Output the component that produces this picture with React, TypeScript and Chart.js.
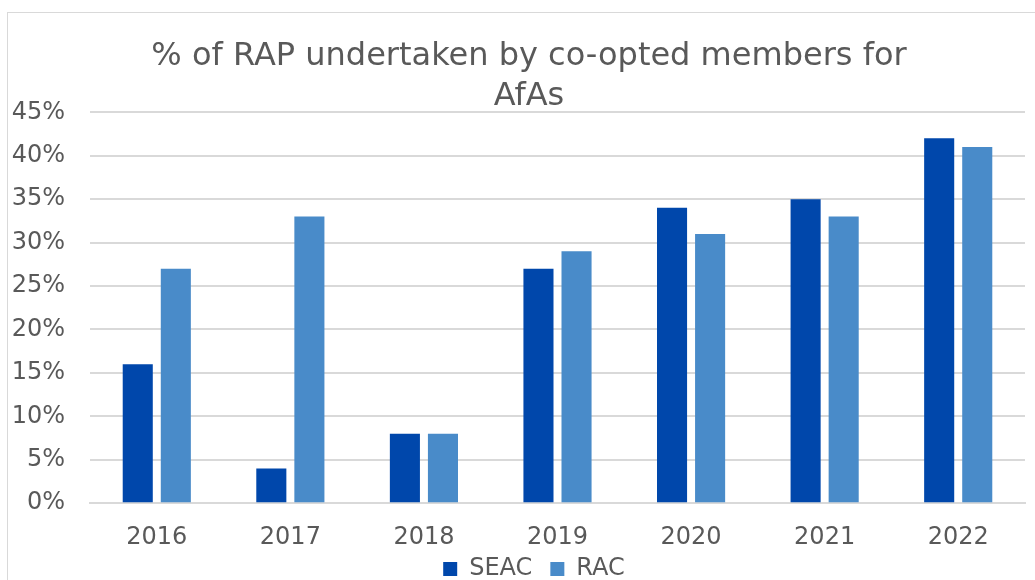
import React, { useEffect, useRef } from "react";
import { Chart, registerables } from "chart.js";

Chart.register(...registerables);

const categories = ["2016", "2017", "2018", "2019", "2020", "2021", "2022"];
const seacValues = [16, 4, 8, 27, 34, 35, 42];
const racValues = [27, 33, 8, 29, 31, 33, 41];
const titleLines = ["% of RAP undertaken by co-opted members for", "AfAs"];

const centerShift = {
  id: "centerShift",
  afterLayout(chart: any) {
    if (chart.titleBlock) chart.titleBlock.left += 21;
    if (chart.legend) {
      chart.legend.left += 31;
      chart.legend.top -= 12;
      chart.legend.bottom -= 12;
    }
  },
};

export default function App() {
  const ref = useRef<HTMLCanvasElement | null>(null);

  useEffect(() => {
    document.body.style.margin = "0";
    const font = "'DejaVu Sans', Verdana, sans-serif";
    const chart = new Chart(ref.current!, {
      type: "bar",
      data: {
        labels: categories,
        datasets: [
          { label: "SEAC", data: seacValues, backgroundColor: "#0047AB", barPercentage: 0.79, categoryPercentage: 0.57 },
          { label: "RAC", data: racValues, backgroundColor: "#498BC9", barPercentage: 0.79, categoryPercentage: 0.57 },
        ],
      },
      plugins: [centerShift],
      options: {
        animation: false,
        responsive: false,
        maintainAspectRatio: false,
        layout: { padding: { top: 24, right: 10, left: 12, bottom: 0 } },
        plugins: {
          title: {
            display: true,
            text: titleLines,
            color: "#595959",
            font: { family: font, size: 32, weight: "normal", lineHeight: 1.27 },
            padding: { top: 0, bottom: -5 },
          },
          legend: {
            position: "bottom",
            labels: {
              color: "#595959",
              font: { family: font, size: 24 },
              boxWidth: 14,
              boxHeight: 14,
              padding: 18,
            },
          },
          tooltip: { enabled: false },
        },
        scales: {
          x: {
            grid: { display: false },
            border: { display: true, color: "#d9d9d9", width: 2 },
            ticks: { color: "#595959", font: { family: font, size: 24 }, padding: 12 },
            afterFit: (scale: any) => {
              scale.height = scale.height - 13;
            },
          },
          y: {
            min: 0,
            max: 45,
            grid: { color: "#d9d9d9", lineWidth: 2, drawTicks: false },
            border: { display: false },
            ticks: {
              stepSize: 5,
              color: "#595959",
              font: { family: font, size: 24 },
              padding: 25,
              callback: (v: any) => v + "%",
            },
            afterFit: (scale: any) => {
              scale.width = 78;
            },
          },
        },
      },
    });
    return () => chart.destroy();
  }, []);

  return (
    <div style={{ position: "relative", width: 1035, height: 580, overflow: "hidden" }}>
      <div
        style={{
          position: "absolute",
          left: 7,
          top: 12,
          width: 1100,
          height: 700,
          border: "1.5px solid #d9d9d9",
          boxSizing: "border-box",
        }}
      />
      <canvas
        ref={ref}
        width={1035}
        height={591}
        style={{ position: "absolute", left: 0, top: 12, width: 1035, height: 591 }}
      />
    </div>
  );
}
